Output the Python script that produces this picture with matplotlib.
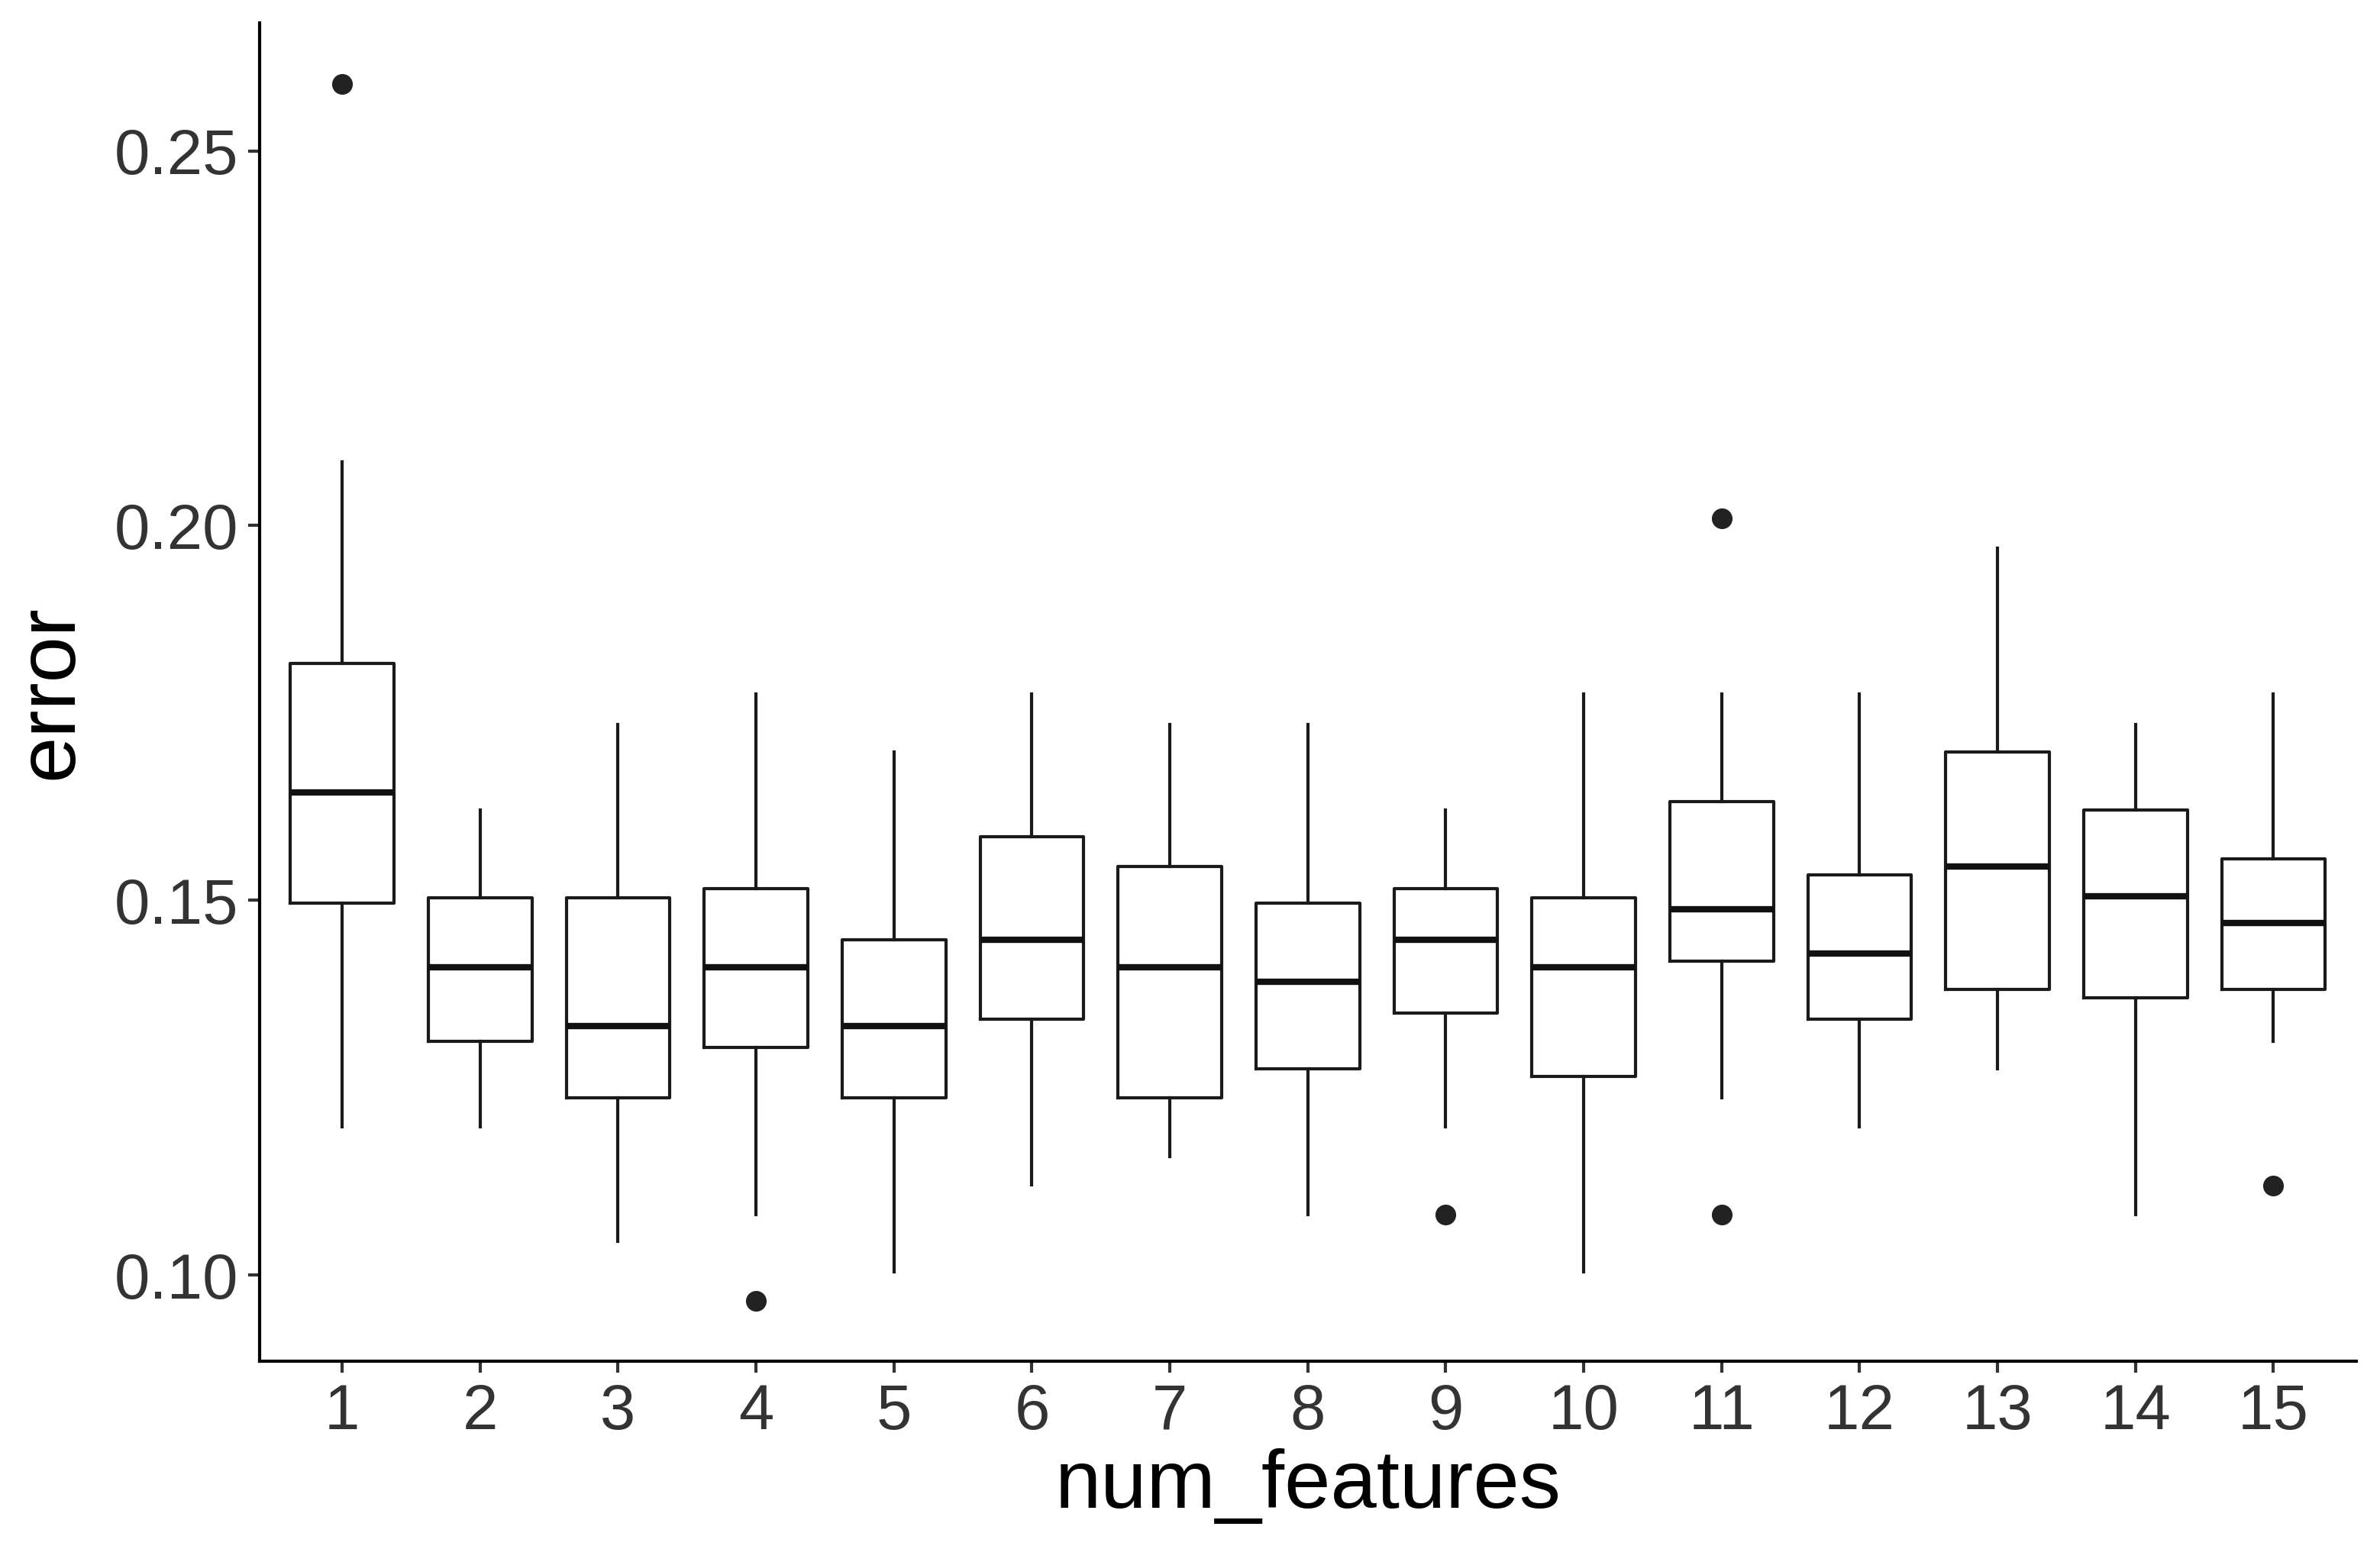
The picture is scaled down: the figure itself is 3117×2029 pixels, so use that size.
import matplotlib
matplotlib.use("Agg")
import matplotlib.pyplot as plt

plt.rcParams["font.family"] = ["Liberation Sans", "DejaVu Sans"]

# box statistics, one entry per num_features value
num_features = list(range(1, 16))
whisker_low = [0.1198, 0.1198, 0.1045, 0.1081, 0.1004, 0.1121, 0.1158, 0.1081,
               0.1198, 0.1004, 0.1237, 0.1198, 0.1275, 0.1081, 0.1312]
q1 = [0.1496, 0.1312, 0.1237, 0.1304, 0.1237, 0.1342, 0.1237, 0.1275,
      0.1350, 0.1265, 0.1419, 0.1342, 0.1381, 0.1370, 0.1381]
median = [0.1644, 0.1411, 0.1332, 0.1411, 0.1332, 0.1447, 0.1411, 0.1391,
          0.1447, 0.1411, 0.1488, 0.1429, 0.1545, 0.1506, 0.1470]
q3 = [0.1816, 0.1504, 0.1504, 0.1516, 0.1447, 0.1585, 0.1545, 0.1496,
      0.1516, 0.1504, 0.1632, 0.1534, 0.1698, 0.1621, 0.1555]
whisker_high = [0.2085, 0.1621, 0.1735, 0.1775, 0.1698, 0.1775, 0.1735, 0.1735,
                0.1621, 0.1775, 0.1775, 0.1775, 0.1970, 0.1735, 0.1775]
outliers = [[0.2589], [], [], [0.0966], [], [], [], [],
            [0.1081], [], [0.2010, 0.1081], [], [], [], [0.1120]]

stats = []
for i in range(len(num_features)):
    stats.append({
        "label": str(num_features[i]),
        "whislo": whisker_low[i],
        "q1": q1[i],
        "med": median[i],
        "q3": q3[i],
        "whishi": whisker_high[i],
        "fliers": outliers[i],
    })

fig = plt.figure(figsize=(3117 / 300, 2029 / 300), dpi=300)
ax = fig.add_axes([0.109, 0.121, 0.881, 0.864])

ax.bxp(stats, positions=num_features, widths=0.75, showcaps=False,
       patch_artist=False,
       boxprops=dict(color="#1a1a1a", linewidth=1.0),
       whiskerprops=dict(color="#1a1a1a", linewidth=1.0),
       medianprops=dict(color="#111111", linewidth=2.0, solid_capstyle="butt"),
       flierprops=dict(marker="o", markersize=5.5, markerfacecolor="#222222",
                       markeredgecolor="#222222"))

# ggplot style expansion
all_vals = whisker_low + whisker_high + [v for o in outliers for v in o]
lo, hi = min(all_vals), max(all_vals)
pad = (hi - lo) * 0.05
ax.set_ylim(lo - pad, hi + pad)
ax.set_xlim(0.4, 15.6)

ax.set_yticks([0.10, 0.15, 0.20, 0.25])
ax.set_yticklabels(["0.10", "0.15", "0.20", "0.25"])
ax.set_xticks(num_features)
ax.set_xticklabels([str(n) for n in num_features])

ax.tick_params(axis="both", labelsize=20, labelcolor="#333333", color="#333333",
               length=3.5, width=1.0, pad=3)

for side in ["top", "right"]:
    ax.spines[side].set_visible(False)
for side in ["left", "bottom"]:
    ax.spines[side].set_linewidth(1.0)
    ax.spines[side].set_color("black")

ax.set_xlabel("num_features", fontsize=26, color="black", labelpad=2)
ax.set_ylabel("error", fontsize=26, color="black", labelpad=8)

fig.savefig("out.png", dpi=300, facecolor="white")
